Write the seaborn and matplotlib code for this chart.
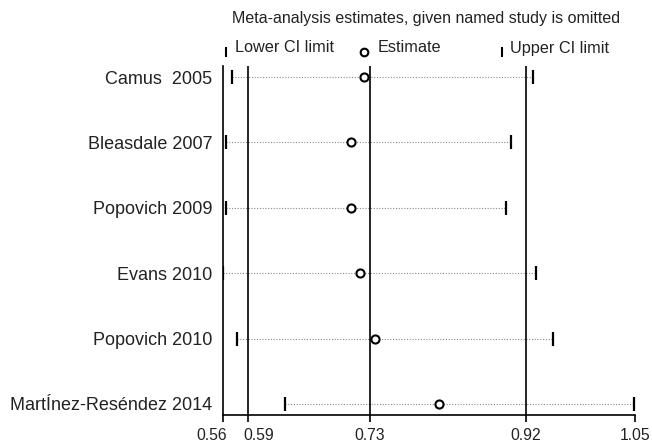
import matplotlib
matplotlib.use("Agg")
import matplotlib.pyplot as plt
import matplotlib.transforms as mtransforms
import numpy as np
import seaborn as sns

studies = ["Camus  2005", "Bleasdale 2007", "Popovich 2009", "Evans 2010",
           "Popovich 2010", "MartÍnez-Reséndez 2014"]
estimate = [0.728, 0.712, 0.712, 0.723, 0.741, 0.817]
lower = [0.571, 0.563, 0.564, 0.560, 0.577, 0.634]
upper = [0.929, 0.902, 0.897, 0.932, 0.952, 1.049]

# overall estimate and its CI (vertical reference lines)
overall = [0.59, 0.735, 0.92]
xticks = [0.56, 0.59, 0.735, 0.92, 1.05]
xtick_labels = ["0.56", "0.59", "0.73", "0.92", "1.05"]

sns.set_theme(style="ticks")
plt.rcParams['font.family'] = ['Liberation Sans', 'DejaVu Sans']

fig = plt.figure(figsize=(6.52, 4.46), dpi=100)
ax = fig.add_axes([0.342, 0.0695, 0.632, 0.7825])

pos = np.arange(len(studies))

ax.hlines(pos, lower, upper, colors="#8a8a8a", linewidth=0.8,
          linestyles=(0, (1, 1.5)), zorder=1)
for v in overall:
    ax.axvline(v, color="black", linewidth=1.2, zorder=2)

sns.scatterplot(x=lower, y=pos, marker="|", s=90, color="black",
                linewidth=1.6, ax=ax, zorder=3)
sns.scatterplot(x=upper, y=pos, marker="|", s=90, color="black",
                linewidth=1.6, ax=ax, zorder=3)
sns.scatterplot(x=estimate, y=pos, marker="o", s=34, facecolor="white",
                edgecolor="black", linewidth=1.5, ax=ax, zorder=4)

ax.set_xlim(0.56, 1.05)
ax.set_ylim(len(studies) - 1 + 0.17, -0.17)
ax.set_yticks(pos)
ax.set_yticklabels(studies, fontsize=13, color="#222222")
ax.set_xticks(xticks)
ax.set_xticklabels(xtick_labels, fontsize=11.3, color="#222222")
ax.tick_params(axis="x", bottom=True, direction="out", length=4.8, width=1.2,
               color="black", pad=4.5)
ax.tick_params(axis="y", left=False, length=0, pad=7.5)
ax.set_xlabel("")
ax.set_ylabel("")

# nudge the two crowded labels apart, like the original
shifts = [-11.5, 11, 0, 0, 0]
for lab, dx in zip(ax.get_xticklabels(), shifts):
    lab.set_transform(lab.get_transform() +
                      mtransforms.ScaledTranslation(dx / 100, 0, fig.dpi_scale_trans))

for s in ["top", "right"]:
    ax.spines[s].set_visible(False)
for s in ["left", "bottom"]:
    ax.spines[s].set_color("black")
    ax.spines[s].set_linewidth(1.2)

# title and legend row
W, H = 652, 446
fig.text(426 / W, 1 - 19 / H, "Meta-analysis estimates, given named study is omitted",
         ha="center", va="center", fontsize=11.5, color="#222222")

leg_items = [(226, "|", "Lower CI limit", 235),
             (364, "o", "Estimate", 378),
             (502, "|", "Upper CI limit", 510)]
for mx, mk, label, tx in leg_items:
    if mk == "o":
        fig.lines.append(plt.Line2D([mx / W], [1 - 52 / H], marker="o", markersize=5.5,
                                    markerfacecolor="white", markeredgecolor="black",
                                    markeredgewidth=1.5, transform=fig.transFigure))
    else:
        fig.lines.append(plt.Line2D([mx / W], [1 - 52 / H], marker="|", markersize=7,
                                    markeredgecolor="black", markeredgewidth=1.5,
                                    transform=fig.transFigure))
    fig.text(tx / W, 1 - 48 / H, label, ha="left", va="center",
             fontsize=11.7, color="#222222")

fig.savefig("out.png", dpi=100)
